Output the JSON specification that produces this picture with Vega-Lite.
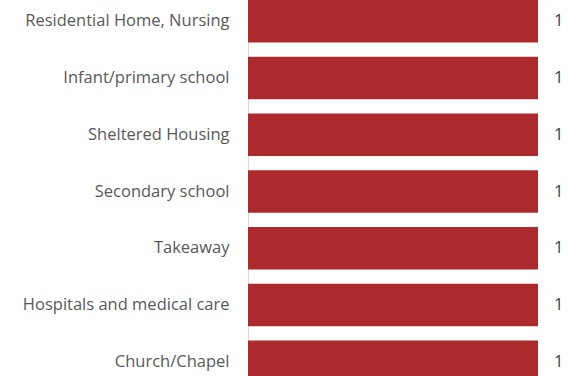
{
  "$schema": "https://vega.github.io/schema/vega-lite/v6.json",
  "width": 290,
  "height": 383,
  "autosize": {"type": "none"},
  "padding": {"left": 248, "top": 0, "right": 36, "bottom": 0},
  "background": "white",
  "config": {"view": {"stroke": null}},
  "data": {"values": [
    {"category": "Residential Home, Nursing", "value": 1},
    {"category": "Infant/primary school", "value": 1},
    {"category": "Sheltered Housing", "value": 1},
    {"category": "Secondary school", "value": 1},
    {"category": "Takeaway", "value": 1},
    {"category": "Hospitals and medical care", "value": 1},
    {"category": "Church/Chapel", "value": 1}
  ]},
  "encoding": {
    "y": {
      "field": "category", "type": "nominal", "sort": null,
      "scale": {"paddingInner": 0.25, "paddingOuter": 0},
      "axis": {
        "title": null, "ticks": false, "labelPadding": 19,
        "domainColor": "#d9d9d9", "domainWidth": 1,
        "labelFont": "Open Sans", "labelFontSize": 16.5, "labelColor": "#595959",
        "labelLimit": 300
      }
    },
    "x": {
      "field": "value", "type": "quantitative",
      "scale": {"domain": [0, 1], "nice": false, "zero": true},
      "axis": null
    }
  },
  "layer": [
    {"mark": {"type": "bar", "color": "#ad2a2c"}},
    {"mark": {"type": "text", "align": "left", "baseline": "middle", "dx": 16, "font": "Open Sans", "fontSize": 16.5, "color": "#404040"},
     "encoding": {"text": {"field": "value", "type": "quantitative"}}}
  ]
}
